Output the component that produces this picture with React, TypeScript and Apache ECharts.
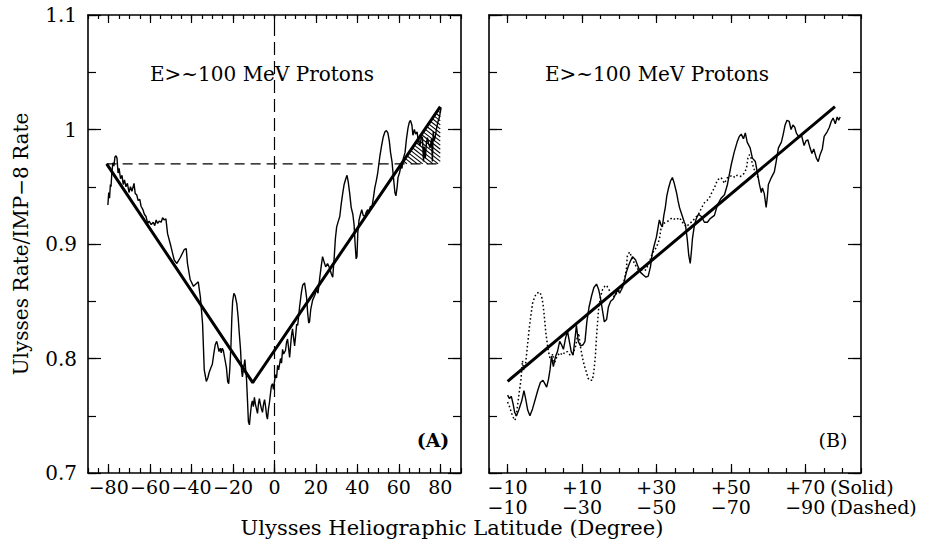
import React, { useEffect, useRef } from "react";
import * as echarts from "echarts";

// Panel A: counting-rate ratio versus heliographic latitude (full fast latitude scan)
const leftLat = [
  -80.4, -80.0, -79.6, -79.2, -78.9, -78.5, -78.0, -77.5, -77.0, -76.5, -76.0, -75.5, -75.0, -74.3, -73.6, -73.0,
  -72.4, -71.7, -71.0, -70.2, -69.5, -68.8, -67.8, -67.2, -66.5, -65.8, -65.0, -64.4, -63.5, -62.8, -62.0, -61.2,
  -60.5, -59.5, -58.5, -57.8, -57.1, -56.4, -55.6, -54.7, -54.0, -53.3, -52.4, -51.6, -50.0, -48.4, -47.1, -45.5,
  -43.6, -42.6, -42.0, -40.7, -39.1, -37.4, -36.8, -35.8, -35.5, -34.7, -33.9, -32.9, -32.2, -31.5, -30.7, -30.0,
  -29.3, -28.6, -27.9, -27.6, -26.8, -26.2, -25.7, -25.2, -24.7, -24.0, -23.2, -22.6, -22.1, -21.6, -21.0, -20.6,
  -20.2, -19.6, -19.0, -18.2, -17.5, -17.0, -16.4, -15.9, -15.5, -14.9, -14.3, -13.9, -13.5, -13.0, -12.6, -12.1,
  -11.6, -11.1, -10.7, -10.2, -9.7, -9.2, -8.7, -8.2, -7.7, -7.3, -6.8, -6.3, -5.8, -5.3, -4.8, -4.3,
  -3.8, -3.4, -2.9, -2.4, -1.9, -1.5, -1.0, -0.5, 0.0, 0.5, 1.0, 1.5, 2.0, 2.9, 3.4, 3.9,
  4.4, 5.3, 5.8, 6.3, 6.8, 7.3, 7.8, 8.2, 8.7, 9.2, 9.7, 10.2, 10.7, 11.2, 12.1, 13.0,
  13.6, 14.5, 15.0, 15.5, 16.0, 16.5, 16.9, 17.5, 18.4, 19.4, 20.3, 21.0, 21.8, 22.5, 23.2, 24.0,
  24.7, 25.6, 26.6, 27.4, 28.1, 28.8, 29.4, 30.0, 30.8, 31.5, 32.2, 32.9, 33.6, 34.4, 35.0, 35.6,
  36.3, 37.0, 37.8, 38.4, 38.9, 39.4, 39.8, 40.2, 40.8, 41.5, 42.1, 42.8, 43.6, 44.3, 45.0, 45.6,
  46.3, 47.0, 47.7, 48.4, 49.1, 49.8, 50.8, 51.6, 52.4, 53.3, 54.0, 54.7, 55.4, 56.0, 56.7, 57.3,
  58.1, 58.6, 59.2, 59.6, 60.3, 61.0, 61.5, 62.2, 63.0, 63.7, 64.4, 65.0, 65.6, 66.3, 66.8, 67.5,
  68.1, 68.8, 69.4, 70.2, 70.9, 71.4, 71.9, 72.3, 72.8, 73.3, 73.8, 74.3, 75.1, 75.8, 76.2, 76.6,
  77.0, 77.5, 78.2, 78.9, 79.5, 80.0, 80.4,
];
const leftRate = [
  0.934, 0.945, 0.940, 0.952, 0.950, 0.962, 0.971, 0.968, 0.976, 0.977, 0.975, 0.962, 0.966, 0.957, 0.960, 0.952,
  0.956, 0.950, 0.953, 0.945, 0.950, 0.946, 0.953, 0.944, 0.943, 0.938, 0.939, 0.933, 0.930, 0.926, 0.924, 0.918,
  0.920, 0.917, 0.919, 0.916, 0.921, 0.918, 0.920, 0.919, 0.923, 0.921, 0.922, 0.909, 0.898, 0.886, 0.883, 0.888,
  0.895, 0.896, 0.883, 0.869, 0.863, 0.866, 0.867, 0.854, 0.848, 0.830, 0.790, 0.780, 0.783, 0.788, 0.792, 0.795,
  0.804, 0.812, 0.815, 0.813, 0.806, 0.809, 0.805, 0.809, 0.807, 0.800, 0.792, 0.780, 0.778, 0.790, 0.812, 0.835,
  0.850, 0.857, 0.855, 0.848, 0.835, 0.822, 0.808, 0.790, 0.784, 0.792, 0.799, 0.790, 0.782, 0.762, 0.745, 0.742,
  0.752, 0.760, 0.763, 0.758, 0.766, 0.760, 0.756, 0.752, 0.761, 0.765, 0.760, 0.756, 0.753, 0.760, 0.764, 0.758,
  0.750, 0.747, 0.756, 0.762, 0.770, 0.776, 0.778, 0.773, 0.780, 0.786, 0.783, 0.794, 0.790, 0.800, 0.796, 0.808,
  0.804, 0.807, 0.814, 0.817, 0.809, 0.801, 0.812, 0.820, 0.826, 0.818, 0.811, 0.820, 0.830, 0.829, 0.845, 0.858,
  0.864, 0.866, 0.860, 0.853, 0.840, 0.831, 0.832, 0.843, 0.851, 0.855, 0.860, 0.857, 0.870, 0.880, 0.889, 0.884,
  0.880, 0.883, 0.879, 0.874, 0.871, 0.888, 0.905, 0.915, 0.920, 0.924, 0.935, 0.944, 0.952, 0.957, 0.960, 0.954,
  0.944, 0.932, 0.926, 0.917, 0.900, 0.887, 0.889, 0.910, 0.921, 0.926, 0.930, 0.925, 0.924, 0.928, 0.930, 0.927,
  0.933, 0.932, 0.940, 0.949, 0.955, 0.962, 0.976, 0.985, 0.993, 0.998, 0.999, 0.997, 0.990, 0.980, 0.972, 0.960,
  0.945, 0.942, 0.950, 0.958, 0.962, 0.968, 0.966, 0.975, 0.980, 0.992, 1.001, 1.006, 1.008, 1.004, 0.995, 1.000,
  0.996, 0.998, 0.990, 0.986, 0.994, 0.993, 0.972, 0.985, 0.975, 0.988, 0.993, 0.988, 0.984, 0.992, 0.972, 0.998,
  0.990, 0.993, 1.001, 1.007, 1.010, 1.015, 1.019,
];

// Panel A: two-segment linear fit, reference level, equator
const leftFitLat = [-81, -10.5, 80];
const leftFitRate = [0.97, 0.779, 1.02];
const referenceRate = 0.97;
const referenceLat = [-81, 80];
// region between the fit and the reference level at high northern latitudes
const shadedLat = [61.3, 80, 80];
const shadedRate = [0.97, 1.02, 0.97];

// Panel B: northern (solid) and mirrored southern (dotted) latitudes, in solid-axis degrees
const northLat = [
  -10.0, -9.5, -9.0, -8.5, -8.1, -7.6, -7.0, -6.2, -5.6, -5.1, -4.6, -4.0, -3.3, -2.6, -1.9, -1.2,
  -0.5, 0.0, 0.5, 1.0, 1.4, 1.8, 2.3, 2.9, 3.4, 4.0, 4.5, 5.0, 5.6, 6.1, 6.6, 7.1,
  7.6, 8.0, 8.5, 9.0, 9.6, 10.3, 10.8, 11.3, 11.9, 12.6, 13.2, 13.9, 14.5, 15.0, 15.5, 16.0,
  16.6, 17.1, 17.7, 18.4, 19.0, 19.6, 20.1, 20.9, 21.4, 21.9, 22.5, 23.0, 23.6, 24.4, 25.1, 25.8,
  26.5, 27.2, 27.8, 28.4, 28.9, 29.5, 30.0, 30.8, 31.2, 31.6, 32.0, 32.4, 32.8, 33.2, 33.8, 34.3,
  34.8, 35.4, 35.8, 36.2, 36.6, 37.0, 37.5, 37.8, 38.3, 38.7, 39.1, 39.4, 39.7, 40.2, 40.7, 41.3,
  42.1, 42.9, 43.7, 44.4, 44.8, 45.6, 46.4, 47.4, 48.3, 49.1, 50.1, 50.9, 51.7, 52.3, 52.8, 53.4,
  53.9, 54.4, 55.2, 55.8, 56.6, 57.1, 57.7, 58.2, 58.5, 59.0, 59.5, 59.8, 60.1, 60.9, 61.7, 62.2,
  62.8, 63.6, 64.1, 64.6, 65.1, 65.7, 66.2, 66.7, 67.2, 67.6, 68.4, 69.0, 69.7, 70.2, 70.7, 71.3,
  71.8, 72.3, 73.0, 73.5, 74.0, 74.6, 75.1, 75.9, 76.5, 77.0, 77.5, 78.1, 78.6, 79.0, 79.4,
];
const northRate = [
  0.768, 0.765, 0.767, 0.760, 0.753, 0.750, 0.755, 0.763, 0.772, 0.764, 0.755, 0.750, 0.756, 0.764, 0.772, 0.779,
  0.781, 0.778, 0.775, 0.782, 0.790, 0.802, 0.793, 0.802, 0.806, 0.815, 0.812, 0.808, 0.818, 0.824, 0.815, 0.806,
  0.803, 0.814, 0.829, 0.815, 0.811, 0.812, 0.815, 0.832, 0.845, 0.855, 0.862, 0.865, 0.860, 0.852, 0.842, 0.832,
  0.834, 0.845, 0.850, 0.852, 0.856, 0.860, 0.857, 0.862, 0.868, 0.875, 0.881, 0.885, 0.889, 0.886, 0.880, 0.875,
  0.873, 0.871, 0.872, 0.880, 0.892, 0.900, 0.906, 0.921, 0.917, 0.915, 0.925, 0.932, 0.942, 0.948, 0.955, 0.958,
  0.953, 0.945, 0.938, 0.932, 0.928, 0.924, 0.919, 0.917, 0.904, 0.890, 0.883, 0.893, 0.905, 0.916, 0.922, 0.926,
  0.924, 0.919, 0.919, 0.922, 0.923, 0.925, 0.934, 0.940, 0.943, 0.952, 0.969, 0.980, 0.989, 0.994, 0.996, 0.992,
  0.997, 0.989, 0.984, 0.975, 0.972, 0.963, 0.952, 0.945, 0.949, 0.944, 0.932, 0.940, 0.952, 0.958, 0.963, 0.972,
  0.984, 0.989, 0.996, 1.004, 1.008, 1.007, 1.000, 1.004, 1.002, 0.997, 0.993, 0.995, 0.986, 0.990, 0.991, 0.984,
  0.979, 0.983, 0.975, 0.972, 0.978, 0.983, 0.994, 0.998, 1.002, 1.007, 1.010, 1.005, 1.011, 1.008, 1.011,
];
const southLat = [
  -10.0, -9.5, -8.9, -8.4, -8.0, -7.6, -7.2, -6.8, -6.4, -6.0, -5.7, -5.2, -4.6, -4.2, -3.8, -3.3,
  -2.7, -2.2, -1.4, -0.9, -0.5, -0.1, 0.3, 0.7, 1.0, 1.4, 1.8, 2.1, 2.6, 3.2, 4.0, 4.8,
  5.5, 6.1, 6.8, 7.4, 8.0, 8.3, 8.7, 9.1, 9.6, 10.1, 10.6, 11.2, 11.6, 12.0, 12.8, 13.2,
  13.6, 13.9, 14.2, 14.5, 15.0, 15.5, 16.1, 16.6, 17.1, 17.6, 18.2, 18.7, 19.3, 19.8, 20.4, 21.0,
  21.4, 21.9, 22.2, 22.8, 23.3, 24.1, 25.0, 26.0, 27.0, 28.0, 28.9, 30.0, 30.8, 31.3, 31.8, 32.7,
  33.5, 34.3, 35.2, 36.2, 37.0, 38.0, 39.0, 39.7, 40.5, 41.5, 42.2, 42.9, 43.6, 44.2, 44.9, 45.6,
  46.4, 47.4, 48.3, 49.1, 49.8, 50.4, 51.1, 51.7, 52.5, 53.2, 53.8, 54.2, 54.6, 55.0, 55.4, 55.8,
  56.3, 56.8, 57.3,
];
const southRate = [
  0.762, 0.758, 0.752, 0.748, 0.746, 0.752, 0.762, 0.772, 0.782, 0.798, 0.790, 0.794, 0.813, 0.826, 0.836, 0.848,
  0.854, 0.857, 0.858, 0.855, 0.848, 0.836, 0.822, 0.812, 0.806, 0.800, 0.799, 0.804, 0.796, 0.801, 0.805, 0.803,
  0.806, 0.806, 0.803, 0.803, 0.808, 0.811, 0.818, 0.822, 0.810, 0.801, 0.794, 0.788, 0.783, 0.781, 0.781, 0.789,
  0.802, 0.819, 0.832, 0.845, 0.854, 0.860, 0.863, 0.864, 0.861, 0.858, 0.855, 0.854, 0.857, 0.859, 0.861, 0.865,
  0.869, 0.877, 0.890, 0.893, 0.889, 0.883, 0.878, 0.877, 0.877, 0.883, 0.892, 0.897, 0.904, 0.915, 0.918, 0.919,
  0.921, 0.923, 0.921, 0.923, 0.919, 0.915, 0.918, 0.920, 0.923, 0.927, 0.932, 0.936, 0.938, 0.940, 0.945, 0.949,
  0.956, 0.958, 0.953, 0.958, 0.959, 0.960, 0.958, 0.960, 0.959, 0.960, 0.963, 0.966, 0.975, 0.978, 0.976, 0.970,
  0.965, 0.962, 0.958,
];
const rightFitLat = [-10, 78];
const rightFitRate = [0.78, 1.02];

// Axis ticks
const leftMajorTicks = [-80, -60, -40, -20, 0, 20, 40, 60, 80];
const leftMinorTicks = Array.from({ length: 37 }, (_, i) => -90 + i * 5);
const rightMajorTicks = [-10, 10, 30, 50, 70];
const rightMinorTicks = Array.from({ length: 21 }, (_, i) => -15 + i * 5);
const rateMajorTicks = [0.7, 0.8, 0.9, 1.0, 1.1];
const rateMinorTicks = [0.7, 0.75, 0.8, 0.85, 0.9, 0.95, 1.0, 1.05, 1.1];

const FONT = "'DejaVu Serif', 'Liberation Serif', serif";
const INK = "#000";

const pairs = (xs: number[], ys: number[]) => xs.map((x, i) => [x, ys[i]]);
const minus = (s: string) => s.replace("-", "\u2212");
const signed = (v: number) => (v > 0 ? "+" + v : minus(String(v)));

function xAxes(grid: number, min: number, max: number, majors: number[], minors: number[], fmt: (v: number) => string) {
  const base = { type: "value", gridIndex: grid, min, max, splitLine: { show: false } };
  const line = { show: true, onZero: false, lineStyle: { color: INK, width: 1.6 } };
  const tickStyle = { color: INK, width: 1.2 };
  return [
    {
      ...base,
      position: "bottom",
      axisLine: line,
      axisTick: { show: true, inside: true, customValues: minors, length: 5, lineStyle: tickStyle },
      axisLabel: {
        show: true,
        customValues: majors,
        formatter: fmt,
        interval: 0,
        hideOverlap: false,
        showMinLabel: true,
        showMaxLabel: true,
        color: INK,
        fontFamily: FONT,
        fontSize: 19,
        lineHeight: 20,
        margin: 4,
      },
    },
    {
      ...base,
      position: "bottom",
      axisLine: { show: false, onZero: false },
      axisTick: { show: true, inside: true, customValues: majors, length: 9, lineStyle: tickStyle },
      axisLabel: { show: false },
    },
    {
      ...base,
      position: "top",
      axisLine: line,
      axisTick: { show: true, inside: true, customValues: minors, length: 4, lineStyle: tickStyle },
      axisLabel: { show: false },
    },
    {
      ...base,
      position: "top",
      axisLine: { show: false, onZero: false },
      axisTick: { show: true, inside: true, customValues: majors, length: 8, lineStyle: tickStyle },
      axisLabel: { show: false },
    },
  ];
}

function yAxes(grid: number, withLabels: boolean) {
  const base = { type: "value", gridIndex: grid, min: 0.7, max: 1.1, splitLine: { show: false } };
  const line = { show: true, onZero: false, lineStyle: { color: INK, width: 1.6 } };
  const tickStyle = { color: INK, width: 1.2 };
  return [
    {
      ...base,
      position: "left",
      axisLine: line,
      axisTick: { show: true, inside: true, customValues: rateMinorTicks, length: 8, lineStyle: tickStyle },
      axisLabel: withLabels
        ? {
            show: true,
            customValues: rateMajorTicks,
            formatter: (v: number) => String(Math.round(v * 10) / 10),
            color: INK,
            fontFamily: FONT,
            fontSize: 20,
            margin: 11,
          }
        : { show: false },
    },
    {
      ...base,
      position: "left",
      axisLine: { show: false, onZero: false },
      axisTick: { show: true, inside: true, customValues: rateMajorTicks, length: 13, lineStyle: tickStyle },
      axisLabel: { show: false },
    },
    {
      ...base,
      position: "right",
      axisLine: line,
      axisTick: { show: true, inside: true, customValues: rateMinorTicks, length: 8, lineStyle: tickStyle },
      axisLabel: { show: false },
    },
    {
      ...base,
      position: "right",
      axisLine: { show: false, onZero: false },
      axisTick: { show: true, inside: true, customValues: rateMajorTicks, length: 13, lineStyle: tickStyle },
      axisLabel: { show: false },
    },
  ];
}

function lineSeries(axis: number, data: number[][], width: number, type: any = "solid") {
  return {
    type: "line",
    xAxisIndex: axis,
    yAxisIndex: axis,
    data,
    showSymbol: false,
    symbol: "none",
    silent: true,
    lineStyle: { color: INK, width, type },
  };
}

// diagonal hatching clipped to a convex polygon given in data coordinates
function hatchRender(poly: number[][]) {
  return (_params: any, api: any) => {
    const pts = poly.map((p) => api.coord(p));
    const ang = (38 * Math.PI) / 180;
    const nx = -Math.sin(ang);
    const ny = Math.cos(ang);
    const proj = pts.map((p: number[]) => p[0] * nx + p[1] * ny);
    const lo = Math.min(...proj);
    const hi = Math.max(...proj);
    const gap = 3.2;
    const children: any[] = [];
    for (let c = lo + gap / 2; c < hi; c += gap) {
      const hits: number[][] = [];
      for (let i = 0; i < pts.length; i++) {
        const j = (i + 1) % pts.length;
        const da = proj[i] - c;
        const db = proj[j] - c;
        if (da * db < 0) {
          const t = da / (da - db);
          hits.push([pts[i][0] + t * (pts[j][0] - pts[i][0]), pts[i][1] + t * (pts[j][1] - pts[i][1])]);
        }
      }
      if (hits.length >= 2) {
        children.push({
          type: "line",
          shape: { x1: hits[0][0], y1: hits[0][1], x2: hits[1][0], y2: hits[1][1] },
          style: { stroke: INK, lineWidth: 1.1 },
        });
      }
    }
    return { type: "group", children };
  };
}

export default function App() {
  const ref = useRef<HTMLDivElement>(null);

  useEffect(() => {
    if (!ref.current) return;
    const chart = echarts.init(ref.current, null, { renderer: "svg" });

    const option: any = {
      animation: false,
      backgroundColor: "#fff",
      textStyle: { fontFamily: FONT, color: INK },
      grid: [
        { left: 88, top: 15, width: 373, height: 458, containLabel: false },
        { left: 489, top: 15, width: 372, height: 458, containLabel: false },
      ],
      xAxis: [
        ...xAxes(0, -90, 90, leftMajorTicks, leftMinorTicks, (v: number) => minus(String(v))),
        ...xAxes(1, -15, 85, rightMajorTicks, rightMinorTicks, (v: number) => `${signed(v)}\n${signed(-v - 20)}`),
      ],
      yAxis: [...yAxes(0, true), ...yAxes(1, false)],
      series: [
        {
          type: "custom",
          xAxisIndex: 0,
          yAxisIndex: 0,
          data: [0],
          silent: true,
          clip: false,
          renderItem: hatchRender(pairs(shadedLat, shadedRate)),
        },
        lineSeries(0, [[0, 0.7], [0, 1.1]], 1.2, [13, 6]),
        lineSeries(0, referenceLat.map((x) => [x, referenceRate]), 1.3, [10, 6]),
        lineSeries(0, pairs(leftLat, leftRate), 1.4),
        lineSeries(0, pairs(leftFitLat, leftFitRate), 3),
        lineSeries(4, pairs(southLat, southRate), 1.5, [1.6, 2.4]),
        lineSeries(4, pairs(northLat, northRate), 1.4),
        lineSeries(4, pairs(rightFitLat, rightFitRate), 3),
      ],
      graphic: [
        {
          type: "text",
          x: 262,
          y: 74,
          style: { text: "E>~100 MeV Protons", font: `20px ${FONT}`, fill: INK, textAlign: "center", textVerticalAlign: "middle" },
        },
        {
          type: "text",
          x: 657,
          y: 74,
          style: { text: "E>~100 MeV Protons", font: `20px ${FONT}`, fill: INK, textAlign: "center", textVerticalAlign: "middle" },
        },
        {
          type: "text",
          x: 433,
          y: 440,
          style: { text: "(A)", font: `bold 19px ${FONT}`, fill: INK, textAlign: "center", textVerticalAlign: "middle" },
        },
        {
          type: "text",
          x: 833,
          y: 440,
          style: { text: "(B)", font: `19px ${FONT}`, fill: INK, textAlign: "center", textVerticalAlign: "middle" },
        },
        {
          type: "text",
          x: 830,
          y: 487,
          style: { text: "(Solid)", font: `19px ${FONT}`, fill: INK, textAlign: "left", textVerticalAlign: "middle" },
        },
        {
          type: "text",
          x: 830,
          y: 507,
          style: { text: "(Dashed)", font: `19px ${FONT}`, fill: INK, textAlign: "left", textVerticalAlign: "middle" },
        },
        {
          type: "text",
          x: 452,
          y: 528,
          style: {
            text: "Ulysses Heliographic Latitude (Degree)",
            font: `21px ${FONT}`,
            fill: INK,
            textAlign: "center",
            textVerticalAlign: "middle",
          },
        },
        {
          type: "text",
          x: 21,
          y: 244,
          rotation: Math.PI / 2,
          style: {
            text: "Ulysses Rate/IMP\u22128 Rate",
            font: `20px ${FONT}`,
            fill: INK,
            textAlign: "center",
            textVerticalAlign: "middle",
          },
        },
      ],
    };

    chart.setOption(option);
    return () => chart.dispose();
  }, []);

  return (
    <div
      ref={ref}
      style={{ position: "fixed", left: 0, top: 0, width: 926, height: 540, background: "#fff" }}
    />
  );
}
